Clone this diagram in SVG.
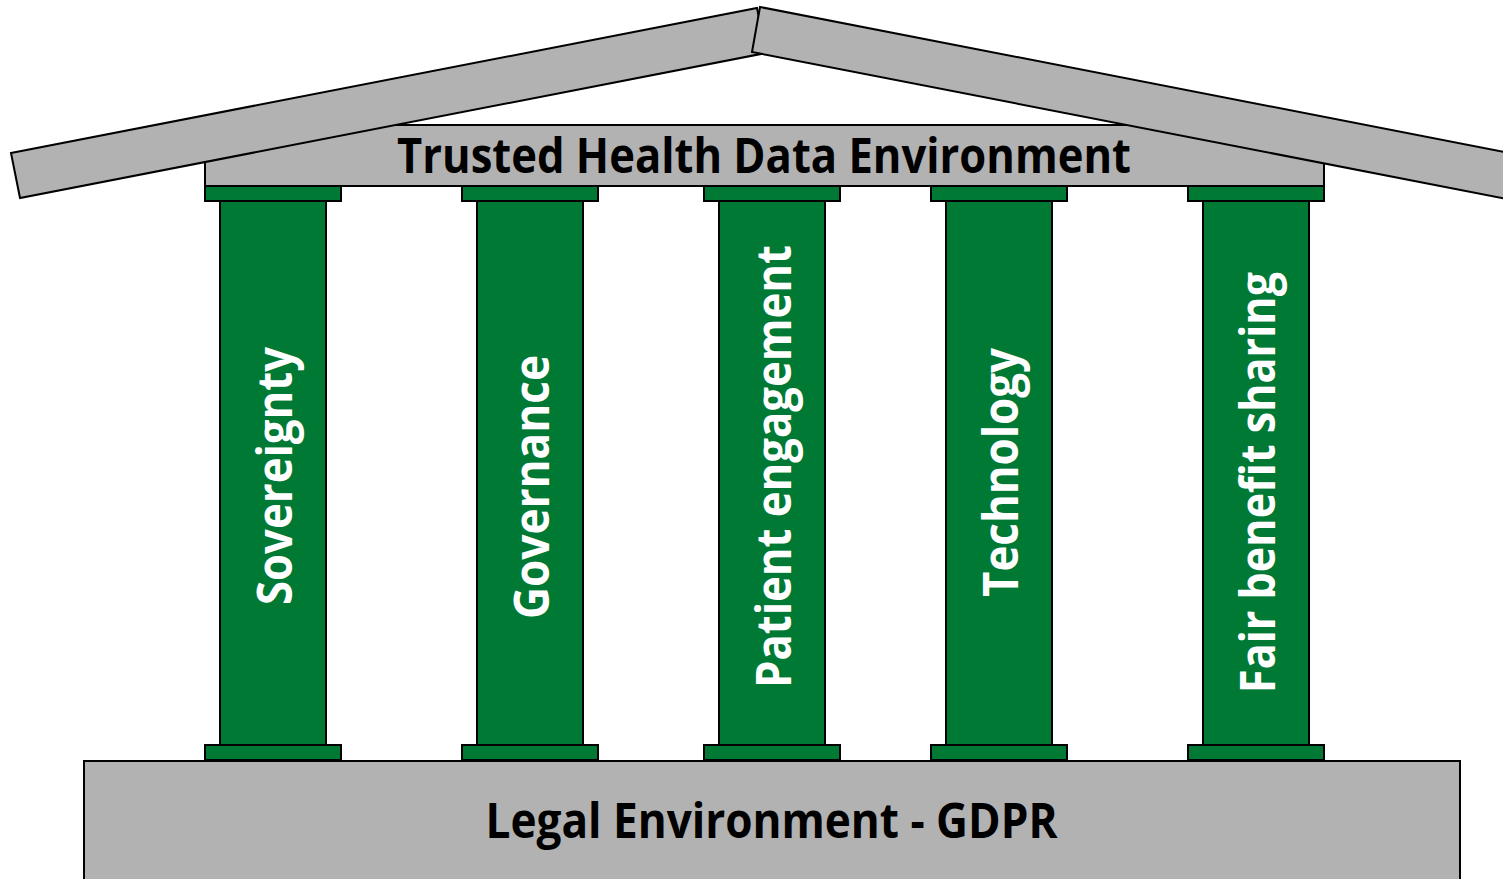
<svg xmlns="http://www.w3.org/2000/svg" width="1503" height="879" viewBox="0 0 1503 879">
  <style>
    .gray { fill: #B2B2B2; stroke: #000; stroke-width: 2; stroke-linejoin: miter; }
    .green { fill: #007934; stroke: #000; stroke-width: 2; }
    .label { font-family: "Open Sans", "Liberation Sans", sans-serif; font-weight: bold; font-size: 48px; }
    .dark { fill: #000; }
    .white { fill: #fff; }
  </style>
  <rect width="1503" height="879" fill="#fff"/>

  <g id="base">
    <rect class="gray" x="84" y="761" width="1376" height="130"/>
    <text class="label dark" x="771.5" y="838" text-anchor="middle" textLength="572" lengthAdjust="spacingAndGlyphs">Legal Environment - GDPR</text>
  </g>

  <g id="entablature">
    <rect class="gray" x="205" y="125" width="1119" height="61"/>
  </g>

  <g id="roof">
    <polygon class="gray" points="11,153 757,8 766,53 20,198"/>
    <polygon class="gray" points="760,7 1520,155 1512,200 752,52"/>
  </g>

  <g id="title">
    <text class="label dark" x="764" y="173" text-anchor="middle" textLength="734" lengthAdjust="spacingAndGlyphs">Trusted Health Data Environment</text>
  </g>

  <g id="pillar-sovereignty">
    <rect class="green" x="220" y="201" width="106" height="544"/>
    <rect class="green" x="205" y="186" width="136" height="15"/>
    <rect class="green" x="205" y="745" width="136" height="15"/>
    <text class="label white" transform="translate(292,476) rotate(-90)" text-anchor="middle" textLength="258" lengthAdjust="spacingAndGlyphs">Sovereignty</text>
  </g>

  <g id="pillar-governance">
    <rect class="green" x="477" y="201" width="106" height="544"/>
    <rect class="green" x="462" y="186" width="136" height="15"/>
    <rect class="green" x="462" y="745" width="136" height="15"/>
    <text class="label white" transform="translate(549,487) rotate(-90)" text-anchor="middle" textLength="264" lengthAdjust="spacingAndGlyphs">Governance</text>
  </g>

  <g id="pillar-patient-engagement">
    <rect class="green" x="719" y="201" width="106" height="544"/>
    <rect class="green" x="704" y="186" width="136" height="15"/>
    <rect class="green" x="704" y="745" width="136" height="15"/>
    <text class="label white" transform="translate(791,466.5) rotate(-90)" text-anchor="middle" textLength="443" lengthAdjust="spacingAndGlyphs">Patient engagement</text>
  </g>

  <g id="pillar-technology">
    <rect class="green" x="946" y="201" width="106" height="544"/>
    <rect class="green" x="931" y="186" width="136" height="15"/>
    <rect class="green" x="931" y="745" width="136" height="15"/>
    <text class="label white" transform="translate(1018,472.5) rotate(-90)" text-anchor="middle" textLength="249" lengthAdjust="spacingAndGlyphs">Technology</text>
  </g>

  <g id="pillar-fair-benefit-sharing">
    <rect class="green" x="1203" y="201" width="106" height="544"/>
    <rect class="green" x="1188" y="186" width="136" height="15"/>
    <rect class="green" x="1188" y="745" width="136" height="15"/>
    <text class="label white" transform="translate(1275,482.5) rotate(-90)" text-anchor="middle" textLength="421" lengthAdjust="spacingAndGlyphs">Fair benefit sharing</text>
  </g>

  <g id="connectors"></g>
</svg>
